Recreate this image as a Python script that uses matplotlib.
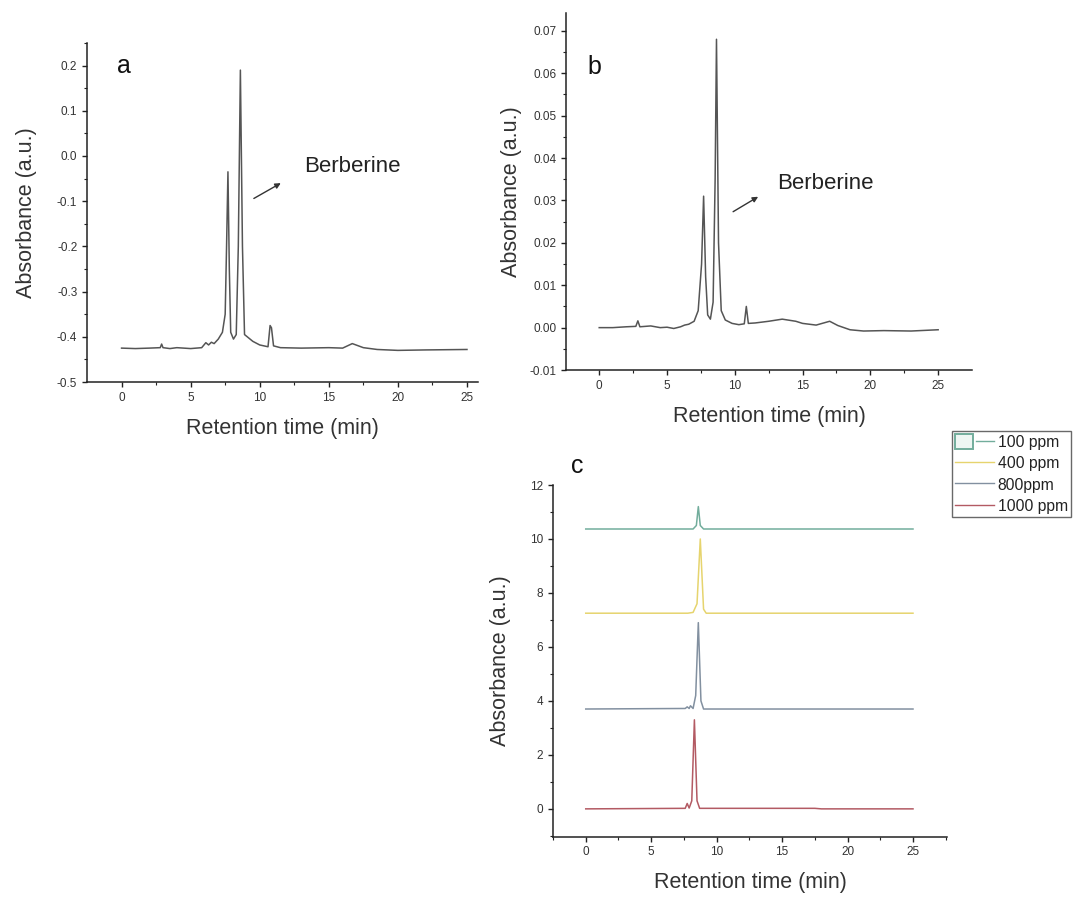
import matplotlib.pyplot as plt
from matplotlib.lines import Line2D
from matplotlib.patches import Patch
from matplotlib.legend_handler import HandlerTuple

plt.rcParams['font.family'] = ['Liberation Sans', 'DejaVu Sans']
plt.rcParams['axes.unicode_minus'] = False

# panel a: HPLC trace of the extract
time_a = [0, 1, 2, 2.8, 2.9, 3.0, 3.5, 4, 5, 5.8, 6.1, 6.3, 6.5, 6.7, 7.0, 7.3, 7.5, 7.6,
          7.7, 7.8, 7.9, 8.1, 8.3, 8.45, 8.6, 8.75, 8.9, 9.1, 9.5, 10, 10.6, 10.75, 10.85,
          11.0, 11.5, 13, 15, 16, 16.7, 17.5, 18.5, 20, 22, 25]
abs_a = [-0.425, -0.426, -0.425, -0.424, -0.416, -0.424, -0.426, -0.424, -0.426, -0.424,
         -0.413, -0.418, -0.412, -0.415, -0.405, -0.39, -0.35, -0.2, -0.035, -0.25, -0.39,
         -0.405, -0.395, -0.2, 0.19, -0.2, -0.395, -0.4, -0.41, -0.418, -0.422, -0.375,
         -0.38, -0.42, -0.424, -0.425, -0.424, -0.425, -0.415, -0.424, -0.428, -0.430,
         -0.429, -0.428]

# panel b
time_b = [0, 1, 2, 2.7, 2.85, 3.0, 3.8, 4.5, 5, 5.5, 6, 6.3, 6.6, 7.0, 7.3, 7.55, 7.7,
          7.85, 8.0, 8.2, 8.4, 8.55, 8.65, 8.8, 9.0, 9.3, 9.8, 10.3, 10.7, 10.85, 11.0,
          11.5, 12.5, 13.5, 14.5, 15, 16, 17, 17.6, 18.5, 19.5, 21, 23, 25]
abs_b = [0, 0, 0.0002, 0.0003, 0.0016, 0.0002, 0.0004, 0.0, 0.0001, -0.0002, 0.0002,
         0.0006, 0.0008, 0.0015, 0.004, 0.015, 0.031, 0.012, 0.003, 0.002, 0.006, 0.035,
         0.068, 0.02, 0.004, 0.0018, 0.0010, 0.0007, 0.0009, 0.005, 0.001, 0.0011,
         0.0015, 0.002, 0.0015, 0.001, 0.0006, 0.0015, 0.0005, -0.0005, -0.0008,
         -0.0007, -0.0008, -0.0005]

# panel c: standards at four concentrations (offset traces)
labels_c = ['100 ppm', '400 ppm', '800ppm', '1000 ppm']
colors_c = ['#72ad9c', '#e6d46e', '#8290a0', '#b35a63']
time_100 = [0, 8.2, 8.45, 8.6, 8.75, 9.0, 25]
abs_100 = [10.37, 10.37, 10.5, 11.2, 10.5, 10.37, 10.37]
time_400 = [0, 7.8, 8.2, 8.5, 8.75, 9.0, 9.2, 25]
abs_400 = [7.25, 7.25, 7.28, 7.6, 10.0, 7.4, 7.25, 7.25]
time_800 = [0, 7.6, 7.75, 7.9, 8.0, 8.2, 8.4, 8.6, 8.8, 9.0, 25]
abs_800 = [3.7, 3.72, 3.78, 3.72, 3.82, 3.72, 4.2, 6.9, 4.0, 3.7, 3.7]
time_1000 = [0, 7.6, 7.75, 7.9, 8.1, 8.3, 8.5, 8.7, 17.5, 18, 25]
abs_1000 = [0, 0.02, 0.2, 0.03, 0.3, 3.3, 0.3, 0.02, 0.02, 0, 0]

LINE = '#555555'
TXT = '#333333'


def style(ax, ylabelpad=6):
    for s in ['top', 'right']:
        ax.spines[s].set_visible(False)
    for s in ['left', 'bottom']:
        ax.spines[s].set_color('#222222')
        ax.spines[s].set_linewidth(1.1)
    ax.tick_params(which='major', direction='out', length=3.5, width=1, labelsize=8.5,
                   colors='#222222', labelcolor=TXT)
    ax.tick_params(which='minor', direction='out', length=2, width=0.8, colors='#222222')
    ax.set_xlabel('Retention time (min)', fontsize=15.5, color=TXT, labelpad=10)
    ax.set_ylabel('Absorbance (a.u.)', fontsize=15.5, color=TXT, labelpad=ylabelpad)


fig = plt.figure(figsize=(10.73, 9.01), dpi=100)

# a
ax_a = fig.add_axes([0.0811, 0.576, 0.3644, 0.3763])
ax_a.plot(time_a, abs_a, color=LINE, lw=1.1)
ax_a.set_xlim(-2.5, 25.8)
ax_a.set_ylim(-0.5, 0.25)
ax_a.set_xticks([0, 5, 10, 15, 20, 25])
ax_a.set_yticks([-0.5, -0.4, -0.3, -0.2, -0.1, 0.0, 0.1, 0.2])
ax_a.set_xticks([2.5, 7.5, 12.5, 17.5, 22.5], minor=True)
ax_a.set_yticks([-0.45, -0.35, -0.25, -0.15, -0.05, 0.05, 0.15, 0.25], minor=True)
style(ax_a, ylabelpad=14)
ax_a.text(-0.3, 0.2, 'a', fontsize=18, color='#111111', va='center')
ax_a.annotate('', xy=(11.7, -0.057), xytext=(9.4, -0.097),
              arrowprops=dict(arrowstyle='-|>', color='#333333', lw=1, mutation_scale=8))
ax_a.text(13.2, -0.024, 'Berberine', fontsize=16, color='#222222', va='center')

# b
ax_b = fig.add_axes([0.5275, 0.5893, 0.3784, 0.3963])
ax_b.plot(time_b, abs_b, color=LINE, lw=1.1)
ax_b.set_xlim(-2.45, 27.5)
ax_b.set_ylim(-0.01, 0.0742)
ax_b.set_xticks([0, 5, 10, 15, 20, 25])
ax_b.set_yticks([-0.01, 0.0, 0.01, 0.02, 0.03, 0.04, 0.05, 0.06, 0.07])
ax_b.set_yticklabels(['-0.01', '0.00', '0.01', '0.02', '0.03', '0.04', '0.05', '0.06', '0.07'])
ax_b.set_xticks([2.5, 7.5, 12.5, 17.5, 22.5], minor=True)
ax_b.set_yticks([-0.005, 0.005, 0.015, 0.025, 0.035, 0.045, 0.055, 0.065], minor=True)
style(ax_b, ylabelpad=5)
ax_b.text(-0.9, 0.0615, 'b', fontsize=18, color='#111111', va='center')
ax_b.annotate('', xy=(11.9, 0.0312), xytext=(9.7, 0.027),
              arrowprops=dict(arrowstyle='-|>', color='#333333', lw=1, mutation_scale=8))
ax_b.text(13.1, 0.0341, 'Berberine', fontsize=16, color='#222222', va='center')

# c
ax_c = fig.add_axes([0.5154, 0.0714, 0.3672, 0.3903])
series_c = [(time_100, abs_100), (time_400, abs_400), (time_800, abs_800), (time_1000, abs_1000)]
for (t, y), lab, col in zip(series_c, labels_c, colors_c):
    ax_c.plot(t, y, color=col, lw=1.1, label=lab)
ax_c.set_xlim(-2.5, 27.6)
ax_c.set_ylim(-1.03, 12)
ax_c.set_xticks([0, 5, 10, 15, 20, 25])
ax_c.set_yticks([0, 2, 4, 6, 8, 10, 12])
ax_c.set_xticks([-2.5, 2.5, 7.5, 12.5, 17.5, 22.5, 27.5], minor=True)
ax_c.set_yticks([-1, 1, 3, 5, 7, 9, 11], minor=True)
style(ax_c, ylabelpad=14)
ax_c.text(-1.1, 12.7, 'c', fontsize=18, color='#111111', va='center')

handles = [(Patch(facecolor='#eef6f3', edgecolor=colors_c[0], lw=1.4),
            Line2D([], [], color=colors_c[0], lw=1))]
handles += [Line2D([], [], color=c, lw=1) for c in colors_c[1:]]
leg = fig.legend(handles, labels_c, loc='upper left', bbox_to_anchor=(952 / 1073, 1 - 431 / 901),
                 fontsize=11.3, frameon=True, fancybox=False, borderpad=0.2, labelspacing=0.35,
                 handlelength=2.5, handleheight=1.1, handletextpad=0.2, borderaxespad=0,
                 handler_map={tuple: HandlerTuple(ndivide=None)})
leg.get_frame().set_edgecolor('#444444')
leg.get_frame().set_linewidth(1)
for t in leg.get_texts():
    t.set_color('#222222')

fig.savefig('out.png', dpi=100)
